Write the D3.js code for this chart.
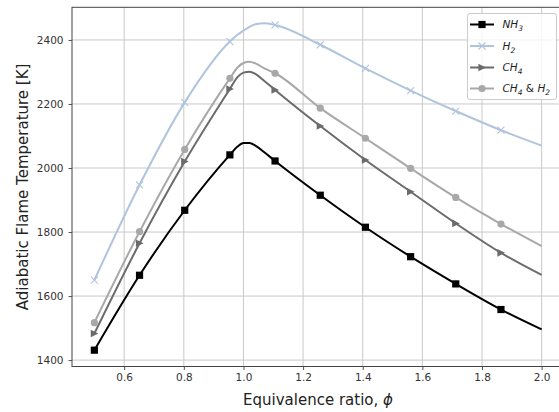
<!DOCTYPE html>
<html>
<head>
<meta charset="utf-8">
<script src="https://d3js.org/d3.v7.min.js"></script>
<style>
  body { margin: 0; background: #fff; }
  svg { font-family: "DejaVu Sans", sans-serif; }
  .grid line { stroke: #c9c9c9; stroke-width: 1; }
  .axis path, .axis line { stroke: #555; }
  .axis text { fill: #333; font-size: 10.5px; font-family: "DejaVu Sans", sans-serif; }
</style>
</head>
<body>
<div id="chart"></div>
<script>
// equivalence ratio samples (markers sit on every markerIdx entry)
var phi = [0.5, 0.6515, 0.803, 0.9545, 0.98, 1.0, 1.02, 1.04, 1.07, 1.106, 1.2576, 1.409, 1.5606, 1.712, 1.8636, 2.0];
var markerIdx = [0, 1, 2, 3, 9, 10, 11, 12, 13, 14];

var nh3   = [1431, 1665, 1868, 2041, 2067, 2078, 2078, 2070, 2049, 2022, 1915, 1815, 1723, 1638, 1558, 1496];
var h2    = [1650, 1947, 2205, 2395, 2416, 2429, 2441, 2449, 2452, 2447, 2385, 2311, 2242, 2178, 2118, 2070];
var ch4   = [1483, 1765, 2020, 2247, 2284, 2298, 2301, 2294, 2272, 2244, 2131, 2025, 1926, 1827, 1735, 1666];
var ch4h2 = [1517, 1801, 2058, 2280, 2314, 2328, 2332, 2327, 2311, 2296, 2187, 2093, 1999, 1908, 1825, 1756];

var xTicks = [0.6, 0.8, 1.0, 1.2, 1.4, 1.6, 1.8, 2.0];
var yTicks = [1400, 1600, 1800, 2000, 2200, 2400];

var width = 559, height = 412;
var pLeft = 72, pRight = 564, pTop = 7.3, pBottom = 366.5;

var svg = d3.select("#chart").append("svg")
  .attr("width", width)
  .attr("height", height);

var x = d3.scaleLinear().domain([0.425, 2.075]).range([pLeft, pRight]);
var y = d3.scaleLinear().domain([1380, 2502]).range([pBottom, pTop]);

// grid
var grid = svg.append("g").attr("class", "grid");
grid.selectAll(".gx").data(xTicks).enter().append("line")
  .attr("x1", function(d) { return x(d); }).attr("x2", function(d) { return x(d); })
  .attr("y1", pTop).attr("y2", pBottom);
grid.selectAll(".gy").data(yTicks).enter().append("line")
  .attr("x1", pLeft).attr("x2", pRight)
  .attr("y1", function(d) { return y(d); }).attr("y2", function(d) { return y(d); });

// axes
svg.append("g")
  .attr("class", "axis")
  .attr("transform", "translate(0," + pBottom + ")")
  .call(d3.axisBottom(x).tickValues(xTicks).tickFormat(d3.format(".1f")).tickSize(3.5).tickPadding(3.5));

svg.append("g")
  .attr("class", "axis")
  .attr("transform", "translate(" + pLeft + ",0)")
  .call(d3.axisLeft(y).tickValues(yTicks).tickFormat(d3.format("d")).tickSize(3.5).tickPadding(5));

svg.selectAll(".axis .domain").remove();

// spines
svg.append("rect")
  .attr("x", pLeft).attr("y", pTop)
  .attr("width", pRight - pLeft).attr("height", pBottom - pTop)
  .attr("fill", "none").attr("stroke", "#444").attr("stroke-width", 1);

// label parts: i = italic, s = italic subscript, n = upright
var series = [
  { label: [["NH", "i"], ["3", "s"]], values: nh3, color: "#000000", marker: "square" },
  { label: [["H", "i"], ["2", "s"]], values: h2, color: "#b0c4de", marker: "x" },
  { label: [["CH", "i"], ["4", "s"]], values: ch4, color: "#6b6b6b", marker: "tri" },
  { label: [["CH", "i"], ["4", "s"], ["\u00a0&\u00a0", "n"], ["H", "i"], ["2", "s"]], values: ch4h2, color: "#a8a8a8", marker: "circle" }
];

function drawMarker(g, type, color) {
  if (type === "square") {
    g.append("rect").attr("x", -3.6).attr("y", -3.6).attr("width", 7.2).attr("height", 7.2).attr("fill", color);
  } else if (type === "circle") {
    g.append("circle").attr("r", 3.6).attr("fill", color);
  } else if (type === "tri") {
    g.append("path").attr("d", "M4,0L-3.6,-3.8L-3.6,3.8Z").attr("fill", color);
  } else {
    g.append("path").attr("d", "M-3.5,-3.5L3.5,3.5M-3.5,3.5L3.5,-3.5")
      .attr("stroke", color).attr("stroke-width", 1.1).attr("fill", "none");
  }
}

var line = d3.line()
  .x(function(d) { return x(d[0]); })
  .y(function(d) { return y(d[1]); })
  .curve(d3.curveMonotoneX);

series.forEach(function(s) {
  var pts = phi.map(function(p, i) { return [p, s.values[i]]; });
  var g = svg.append("g");
  g.append("path")
    .attr("d", line(pts))
    .attr("fill", "none")
    .attr("stroke", s.color)
    .attr("stroke-width", 2);
  markerIdx.forEach(function(i) {
    var m = g.append("g").attr("transform", "translate(" + x(phi[i]) + "," + y(s.values[i]) + ")");
    drawMarker(m, s.marker, s.color);
  });
});

// legend
var lg = svg.append("g");
lg.append("rect")
  .attr("x", 467.5).attr("y", 13.5).attr("width", 89).attr("height", 86)
  .attr("rx", 2.5)
  .attr("fill", "#fff").attr("fill-opacity", 0.8)
  .attr("stroke", "#cccccc");

var legendY = [24.5, 46, 67.5, 88.5];
series.forEach(function(s, i) {
  var ly = legendY[i];
  lg.append("line").attr("x1", 470).attr("x2", 494).attr("y1", ly).attr("y2", ly)
    .attr("stroke", s.color).attr("stroke-width", 2);
  drawMarker(lg.append("g").attr("transform", "translate(482," + ly + ")"), s.marker, s.color);
  var t = lg.append("text").attr("x", 502.5).attr("y", ly + 3.8)
    .attr("font-size", "10.5px").attr("fill", "#222");
  var shift = 0;
  s.label.forEach(function(part) {
    var target = part[1] === "s" ? 3 : 0;
    var ts = t.append("tspan").attr("dy", target - shift).text(part[0]);
    shift = target;
    if (part[1] === "s") ts.attr("font-style", "italic").attr("font-size", "7.5px");
    else if (part[1] === "i") ts.attr("font-style", "italic");
  });
});

// axis titles
svg.append("text")
  .attr("x", (pLeft + pRight) / 2)
  .attr("y", 405)
  .attr("text-anchor", "middle")
  .attr("font-size", "15px")
  .attr("fill", "#222")
  .text("Equivalence ratio, ")
  .append("tspan").attr("font-style", "italic").text("\u03d5");

svg.append("text")
  .attr("transform", "translate(28," + ((pTop + pBottom) / 2) + ") rotate(-90)")
  .attr("text-anchor", "middle")
  .attr("font-size", "15px")
  .attr("fill", "#222")
  .text("Adiabatic Flame Temperature [K]");
</script>
</body>
</html>
